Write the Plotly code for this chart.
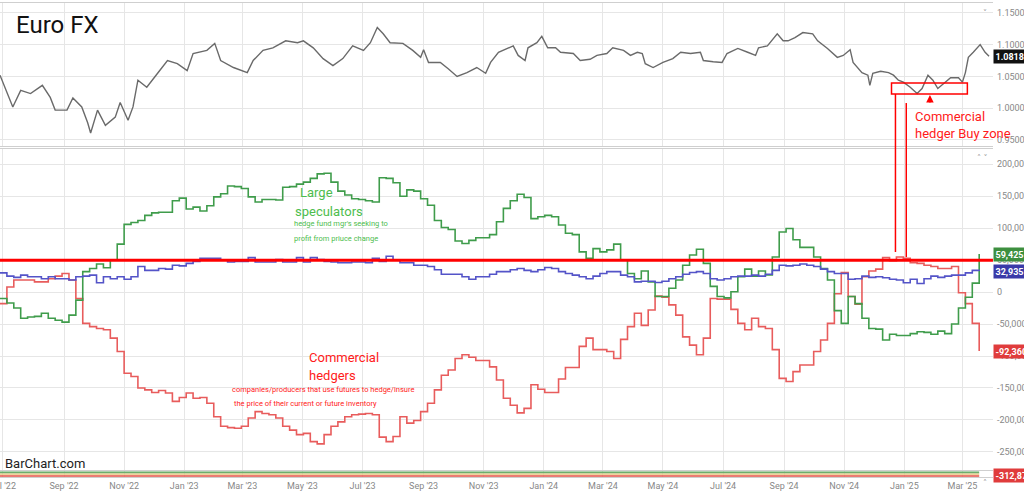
import plotly.graph_objects as go
import pandas as pd

# ---------------- data ----------------
price_dates = ['2022-06-28','2022-07-03','2022-07-11','2022-07-19','2022-07-29','2022-08-10','2022-08-18','2022-08-23','2022-09-04','2022-09-10',
 '2022-09-19','2022-09-25','2022-09-28','2022-10-05','2022-10-13','2022-10-23','2022-10-28','2022-11-05','2022-11-10','2022-11-15',
 '2022-11-24','2022-12-05','2022-12-15','2022-12-25','2023-01-04','2023-01-10','2023-01-24','2023-02-01','2023-02-07','2023-02-20',
 '2023-03-06','2023-03-12','2023-03-22','2023-04-01','2023-04-14','2023-04-26','2023-05-02','2023-05-12','2023-05-22','2023-06-01',
 '2023-06-11','2023-06-21','2023-07-02','2023-07-09','2023-07-16','2023-07-22','2023-07-29','2023-08-11','2023-08-21','2023-08-29',
 '2023-09-01','2023-09-06','2023-09-18','2023-09-26','2023-10-05','2023-10-15','2023-10-25','2023-11-03','2023-11-08','2023-11-16',
 '2023-11-25','2023-12-01','2023-12-06','2023-12-13','2023-12-16','2023-12-25','2023-12-30','2024-01-05','2024-01-13','2024-01-18',
 '2024-01-31','2024-02-07','2024-02-17','2024-02-24','2024-03-05','2024-03-11','2024-03-22','2024-03-29','2024-04-05','2024-04-10',
 '2024-04-13','2024-04-21','2024-05-01','2024-05-11','2024-05-19','2024-05-29','2024-06-08','2024-06-11','2024-06-21','2024-06-30',
 '2024-07-05','2024-07-16','2024-07-26','2024-08-03','2024-08-06','2024-08-15','2024-08-25','2024-08-31','2024-09-05','2024-09-12',
 '2024-09-20','2024-09-30','2024-10-05','2024-10-15','2024-10-25','2024-10-31','2024-11-07','2024-11-10','2024-11-19','2024-11-25',
 '2024-11-27','2024-11-30','2024-12-08','2024-12-16','2024-12-21','2024-12-26','2024-12-31','2025-01-07','2025-01-14','2025-01-19',
 '2025-01-25','2025-01-30','2025-02-04','2025-02-10','2025-02-17','2025-02-25','2025-03-01','2025-03-04','2025-03-07','2025-03-12',
 '2025-03-19','2025-03-24','2025-03-28']
price_close = [1.052,1.033,1.002,1.028,1.023,1.036,1.017,0.997,0.997,1.016,
 1.002,0.977,0.961,0.997,0.973,0.986,1.009,0.981,1.002,1.044,
 1.033,1.055,1.075,1.070,1.059,1.086,1.091,1.102,1.075,1.064,
 1.056,1.075,1.091,1.095,1.106,1.103,1.106,1.095,1.078,1.067,
 1.078,1.098,1.091,1.103,1.127,1.117,1.103,1.102,1.091,1.080,
 1.092,1.072,1.072,1.062,1.050,1.056,1.064,1.055,1.072,1.088,
 1.094,1.098,1.083,1.075,1.095,1.103,1.113,1.095,1.095,1.088,
 1.086,1.075,1.077,1.083,1.086,1.095,1.091,1.083,1.088,1.086,
 1.070,1.064,1.072,1.078,1.088,1.086,1.088,1.075,1.073,1.072,
 1.086,1.094,1.088,1.083,1.095,1.098,1.117,1.106,1.106,1.111,
 1.119,1.117,1.106,1.094,1.080,1.083,1.092,1.072,1.056,1.052,
 1.036,1.055,1.058,1.056,1.052,1.044,1.041,1.033,1.023,1.031,
 1.052,1.044,1.031,1.039,1.048,1.048,1.041,1.056,1.080,1.088,
 1.100,1.088,1.0818]

# weekly COT report dates (Tuesdays)
cot_dates = pd.date_range('2022-06-28', '2025-03-18', freq='7D')

large_spec = [-10,-17,-25,-41,-39,-38,-33,-41,-44,-47,
 -36,-12.5,32,37,44,38,50,75,106,109,
 112,120,124,125,125,143,147,130,133,127,
 135,149,154,166,165,162,149,141,145,145,
 144,164,165,169,172,178,185,186,172,158,
 152,146,145,143,141,179,178,171,150,160,
 158,146,136,112,101,98,80,76,81,85,
 85,90,110,131,143,153,148,115,118,120,
 118,105,92,90,63,53,68,63,66,75,
 50,29,21,33,16,-7,-7,6,19,42,
 58,67,45,9,-7,-9,0.5,24,36,25,
 33,27,55,94,99.5,82,70,70,55,37,
 19,-29,-49,-7,-18,-41,-57,-58,-75,-66,
 -68,-68,-65,-62,-63,-66,-61,-65,-50,-25,
 -8,14,59.425]
commercial = [-18,8,19,19,19,16,16,21,25,29,
 19,-10,-49,-54,-57,-59,-72,-93,-127,-132,
 -150,-153,-157,-154,-158,-171,-165,-158,-166,-165,
 -174,-195,-210,-212,-213,-210,-197,-187,-190,-192,
 -197,-210,-216,-223,-221,-234,-237.5,-223,-210,-203,
 -195,-192,-191,-190,-192,-227,-234,-226,-195,-205,
 -201,-187,-174,-153,-130,-122,-104,-98,-102,-107,
 -107,-117,-137.5,-166,-177,-189,-182,-145,-152,-157,
 -157,-136,-118,-118,-85,-72,-90,-90,-93,-104,
 -74,-54,-33,-52,-28,-6,-8,-20,-36,-70,
 -83,-98,-72,-10,-11,-11,-27,-49,-59,-41,
 -54,-57,-90,-135,-140,-124.5,-114,-114,-93,-75,
 -49,-2.6,30.7,-7,-19,24,33,36,54,49,
 55,53,46,45,42,40,37,37,40,-1,
 -18,-49,-92.36]
small_spec = [30,25,23,26.5,24,24,21,24,21,21,
 19,24,25,26.5,14.6,24,21,24,20,24,
 40,34,34,37,36,42,41,45,48,53,
 53,53,50,47,48,48,54,47,47,47,
 51,47,47,54,47,54,51,48,47,46,
 46,47,47,46,53,48,56,50,46,46,
 42,42,40,35,28,28,28,24,20,24,
 24,28,32,32,35,37,34,32,35,38.5,
 37,32,29,26.5,24,21,25,29,32,32,
 26.5,24,16,17,17,15,17,21,24,28,
 30.7,32,29,21,19,21,24,25,25,26.5,
 25,28,34,42,41,42,44,42,40,36,
 32,29,29,20,21,25,23,24,22.5,20,
 19,14.6,20,13.5,21,25,23,25,26.5,26.5,
 30,34,32.935]

# thousands -> contracts
large_spec = [v * 1000 for v in large_spec]
commercial = [v * 1000 for v in commercial]
small_spec = [v * 1000 for v in small_spec]

band_dates = ['2022-06-28', '2025-03-18']
band_red = [1.4, 1.4]
band_tan = [2.6, 2.6]
band_green = [3.3, 3.3]

price_ticks = [0.95, 1.00, 1.05, 1.10, 1.15]
cot_ticks = [200000, 150000, 100000, 50000, 0, -50000, -100000, -150000, -200000, -250000]

# ---------------- figure ----------------
GRID = '#e6e6e6'
XD = [0, 0.9697]
GREEN_L, RED_L, BLUE_L = '#3f9c4b', '#e85c5c', '#5454c8'

fig = go.Figure()
fig.add_trace(go.Scatter(x=price_dates, y=price_close, mode='lines',
                         line=dict(color='#6a6a6a', width=1.4), xaxis='x', yaxis='y'))
fig.add_trace(go.Scatter(x=cot_dates, y=commercial, mode='lines', line_shape='hv',
                         line=dict(color=RED_L, width=1.6), xaxis='x2', yaxis='y2'))
fig.add_trace(go.Scatter(x=cot_dates, y=large_spec, mode='lines', line_shape='hv',
                         line=dict(color=GREEN_L, width=1.6), xaxis='x2', yaxis='y2'))
fig.add_trace(go.Scatter(x=cot_dates, y=small_spec, mode='lines', line_shape='hv',
                         line=dict(color=BLUE_L, width=1.6), xaxis='x2', yaxis='y2'))
fig.add_trace(go.Scatter(x=band_dates, y=band_red, mode='lines', fill='tozeroy',
                         fillcolor='rgba(230,90,80,0.8)', line=dict(width=0), xaxis='x3', yaxis='y3'))
fig.add_trace(go.Scatter(x=band_dates, y=band_tan, mode='lines', fill='tonexty',
                         fillcolor='rgba(235,200,130,0.8)', line=dict(width=0), xaxis='x3', yaxis='y3'))
fig.add_trace(go.Scatter(x=band_dates, y=band_green, mode='lines',
                         line=dict(color='#6cae6c', width=2), xaxis='x3', yaxis='y3'))

xcommon = dict(domain=XD, showgrid=True, gridcolor=GRID, gridwidth=1, dtick='M2', tick0='2022-07-01',
               ticks='', zeroline=False, showline=True, linecolor='#cfcfcf', mirror=True)
fig.update_layout(
    width=1024, height=491, margin=dict(l=0, r=0, t=0, b=14),
    paper_bgcolor='white', plot_bgcolor='white', showlegend=False,
    font=dict(family='Roboto', color='#888'),
    xaxis=dict(anchor='y', range=['2022-06-28', '2025-04-01'], showticklabels=False, **xcommon),
    xaxis2=dict(anchor='y2', matches='x', showticklabels=False, **xcommon),
    xaxis3=dict(anchor='y3', matches='x', showticklabels=True, tickformat="%b '%y",
                tickfont=dict(size=9, color='#888'), automargin=False,
                ticklabeloverflow='allow', **xcommon),
    yaxis=dict(domain=[0.694, 0.994], anchor='x', side='right', range=[0.9406, 1.1657],
               tickvals=price_ticks, ticktext=[f'{v:.5f}' for v in price_ticks],
               tickfont=dict(size=9, color='#888'), showgrid=True, gridcolor=GRID,
               zeroline=False, ticks='', automargin=False, ticklabelstandoff=3,
               ticklabeloverflow='allow'),
    yaxis2=dict(domain=[0.015, 0.687], anchor='x2', side='right', range=[-278125, 223437],
                tickvals=cot_ticks, ticktext=[f'{v:,}' for v in cot_ticks],
                tickfont=dict(size=9, color='#888'), showgrid=True, gridcolor=GRID,
                zeroline=False, ticks='', automargin=False, ticklabelstandoff=3,
                ticklabeloverflow='allow'),
    yaxis3=dict(domain=[0, 0.012], anchor='x3', range=[0, 4], showticklabels=False,
                showgrid=False, zeroline=False, automargin=False),
)

# ---------------- drawn annotations ----------------
shapes = [
    dict(type='line', xref='paper', yref='y2', x0=0, x1=XD[1], y0=50000, y1=50000,
         line=dict(color='#ff0000', width=3)),
    dict(type='rect', xref='x', yref='y', x0='2024-12-19', x1='2025-03-06', y0=1.0224, y1=1.0398,
         line=dict(color='#ff0000', width=1.5)),
    dict(type='line', xref='x', yref='paper', x0='2024-12-23', x1='2024-12-23', y0=0.803, y1=0.4717,
         line=dict(color='#ff0000', width=1.5)),
    dict(type='line', xref='x', yref='paper', x0='2025-01-03', x1='2025-01-03', y0=0.784, y1=0.461,
         line=dict(color='#ff0000', width=1.5)),
]
fig.update_layout(shapes=shapes)

def txt(text, x, y, size, color, xanchor='left', family='Roboto'):
    fig.add_annotation(text=text, xref='paper', yref='paper', x=x, y=y, xanchor=xanchor,
                       yanchor='middle', showarrow=False, font=dict(size=size, color=color, family=family))

def py(ypx):
    return (477 - ypx) / 477

def px(xpx):
    return xpx / 1024

txt('Euro FX', px(14), py(25), 24, '#111')
LG = '#4dbd4d'
txt('Large', px(298), py(193), 13, LG)
txt('speculators', px(293), py(211), 13, LG)
txt("hedge fund mgr's seeking to", px(292), py(223), 7.5, LG)
txt('profit from priuce change', px(292), py(238), 7.5, LG)
txt('Commercial', px(307), py(357), 13, '#ff1a1a')
txt('hedgers', px(307), py(375), 13, '#ff1a1a')
txt('companies/producers that use futures to hedge/insure', px(230), py(389), 7.5, '#ff1a1a')
txt('the price of their current or future inventory', px(232), py(403), 7.5, '#ff1a1a')
txt('Commercial', px(913), py(116), 13, '#ff1a1a')
txt('hedger Buy zone', px(913), py(133), 13, '#ff1a1a')
txt('BarChart.com', px(3), py(463), 13, '#222')
txt('˅', px(985), py(14), 8, '#999', xanchor='center', family='DejaVu Sans')
txt('˄ ˅', px(982), py(158), 8, '#999', xanchor='center', family='DejaVu Sans')
txt('˄', px(985), py(483), 8, '#999', xanchor='center', family='DejaVu Sans')

fig.add_annotation(x='2025-01-27', y=1.0209, xref='x', yref='y', text='', showarrow=True,
                   ax=0, ay=9, arrowhead=2, arrowsize=1, arrowwidth=1.5, arrowcolor='#ff0000')

def tag(text, yref, y, bg):
    fig.add_annotation(text=f'<b>{text}</b>', xref='paper', x=XD[1] + 0.0005, xanchor='left',
                       yref=yref, y=y, yanchor='middle', showarrow=False, bgcolor=bg, borderpad=1.5,
                       font=dict(size=9, color='white', family='Roboto'))

tag(f'{price_close[-1]:.5f}', 'y', price_close[-1], '#111111')
tag(f'{large_spec[-1]:,.0f}', 'y2', large_spec[-1], '#3d8f3f')
tag(f'{small_spec[-1]:,.0f}', 'y2', small_spec[-1], '#3a3aa8')
tag(f'{commercial[-1]:,.0f}', 'y2', commercial[-1], '#e03c3c')
tag('-312,872', 'paper', py(475), '#e03c3c')

fig.write_html('out.html', config={'displayModeBar': False},
               post_script="document.body.style.margin='0';document.body.style.overflow='hidden';")
